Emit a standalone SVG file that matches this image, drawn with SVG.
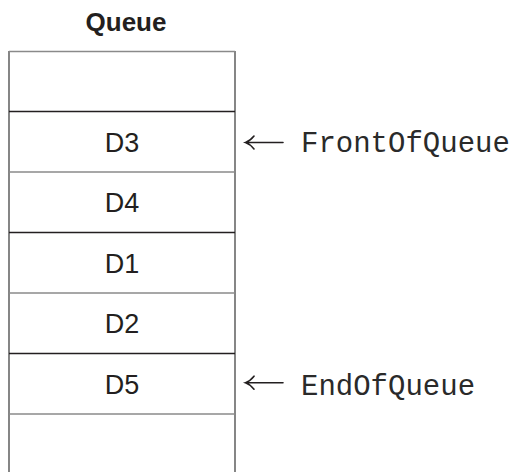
<svg xmlns="http://www.w3.org/2000/svg" width="513" height="472" viewBox="0 0 513 472">
<style>
.dk{stroke:#231f20;stroke-width:1.3;fill:none}
.gr{stroke:#8a8a8a;stroke-width:1.6;fill:none}
.side{stroke:#444;stroke-width:1.3;fill:none}
.lbl{font-family:"Liberation Sans",Arial,sans-serif;font-size:27px;fill:#231f20;text-anchor:middle}
.ttl{font-family:"Liberation Sans",Arial,sans-serif;font-size:26px;font-weight:bold;fill:#231f20;text-anchor:middle}
.mono{font-family:"Liberation Mono","Courier New",monospace;font-size:29px;fill:#2a2a2a}
.arr{stroke:#231f20;stroke-width:1.6;fill:none;stroke-linecap:round}
</style>
<rect width="513" height="472" fill="#fff"/>
<g id="title"><text class="ttl" x="126" y="30.5">Queue</text></g>
<g id="queue">
<line class="side" x1="9" y1="51" x2="9" y2="472"/>
<line class="side" x1="235" y1="51" x2="235" y2="472"/>
<g id="row0"><line class="gr" x1="9" y1="51.5" x2="235" y2="51.5"/></g>
<g id="row1"><line class="dk" x1="9" y1="111.5" x2="235" y2="111.5"/><text class="lbl" x="122" y="151.7">D3</text></g>
<g id="row2"><line class="gr" x1="9" y1="172" x2="235" y2="172"/><text class="lbl" x="122" y="212.2">D4</text></g>
<g id="row3"><line class="dk" x1="9" y1="232.5" x2="235" y2="232.5"/><text class="lbl" x="122" y="272.7">D1</text></g>
<g id="row4"><line class="gr" x1="9" y1="293" x2="235" y2="293"/><text class="lbl" x="122" y="333.2">D2</text></g>
<g id="row5"><line class="dk" x1="9" y1="353.5" x2="235" y2="353.5"/><text class="lbl" x="122" y="393.7">D5</text></g>
<g id="row6"><line class="gr" x1="9" y1="414" x2="235" y2="414"/></g>
</g>
<g id="front"><text class="mono" x="301" y="151.7">FrontOfQueue</text></g>
<g id="end"><text class="mono" x="301" y="394.5">EndOfQueue</text></g>
<g id="connectors">
<path class="arr" d="M283 142.5H246M254 136Q250 141 245.5 142.5Q250 144 254 149"/>
<path class="arr" d="M283 382.7H246M254 376.2Q250 381.2 245.5 382.7Q250 384.2 254 389.2"/>
</g>
</svg>
